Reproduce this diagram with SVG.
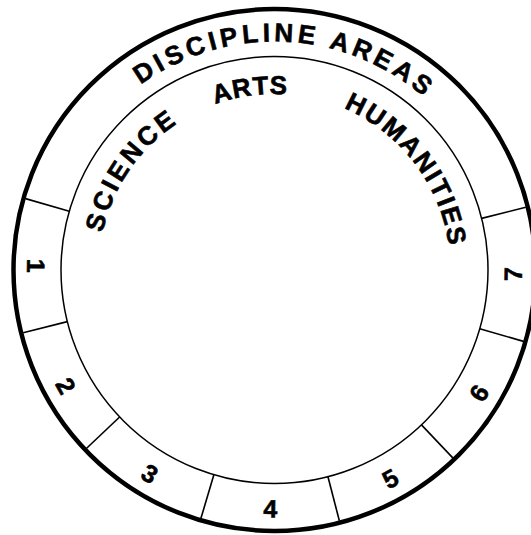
<svg xmlns="http://www.w3.org/2000/svg" width="531" height="535" viewBox="0 0 531 535">
<style>
.t{font-family:"Liberation Sans",Arial,Helvetica,sans-serif;font-weight:bold;font-size:26px;fill:#000;stroke:#000;stroke-width:0.6}
.n{font-size:25px}
.d{text-anchor:middle;dominant-baseline:central}
.rim{fill:none;stroke:#000;stroke-width:4.5}
.ring{fill:none;stroke:#000;stroke-width:1.5}
.div line{stroke:#000;stroke-width:1.6}
</style>
<defs>
<path id="outerArc" d="M -228.5 0 A 228.5 228.5 0 0 1 228.5 0"/>
<path id="innerArc" d="M -165.4 60.2 A 176 176 0 1 1 165.4 60.2"/>
</defs>
<rect width="531" height="535" fill="#fff"/>
<g transform="translate(274.5,270)">
  <g id="rim"><circle class="rim" r="261"/></g>
  <g id="ring"><circle class="ring" r="213.5"/></g>
  <g id="connectors" class="div">
    <line x1="213.5" y1="0" x2="259" y2="0" transform="rotate(196)"/>
    <line x1="213.5" y1="0" x2="259" y2="0" transform="rotate(166)"/>
    <line x1="213.5" y1="0" x2="259" y2="0" transform="rotate(136.5)"/>
    <line x1="213.5" y1="0" x2="259" y2="0" transform="rotate(106.5)"/>
    <line x1="213.5" y1="0" x2="259" y2="0" transform="rotate(75.5)"/>
    <line x1="213.5" y1="0" x2="259" y2="0" transform="rotate(46.5)"/>
    <line x1="213.5" y1="0" x2="259" y2="0" transform="rotate(16)"/>
    <line x1="213.5" y1="0" x2="259" y2="0" transform="rotate(-14)"/>
  </g>
  <g id="title"><text class="t" letter-spacing="4.1" text-anchor="middle"><textPath href="#outerArc" startOffset="51.6%">DISCIPLINE AREAS</textPath></text></g>
  <g id="science"><text class="t" letter-spacing="3.3" text-anchor="middle"><textPath href="#innerArc" startOffset="168">SCIENCE</textPath></text></g>
  <g id="arts"><text class="t" letter-spacing="0.8" text-anchor="middle"><textPath href="#innerArc" startOffset="314">ARTS</textPath></text></g>
  <g id="humanities"><text class="t" letter-spacing="2.1" text-anchor="middle"><textPath href="#innerArc" startOffset="500">HUMANITIES</textPath></text></g>
  <g id="seg1"><text class="t n d" transform="rotate(181) translate(238.5,0) rotate(-90)">1</text></g>
  <g id="seg2"><text class="t n d" transform="rotate(151) translate(238.5,0) rotate(-90)">2</text></g>
  <g id="seg3"><text class="t n d" transform="rotate(121.5) translate(238.5,0) rotate(-90)">3</text></g>
  <g id="seg4"><text class="t n d" transform="rotate(91) translate(238.5,0) rotate(-90)">4</text></g>
  <g id="seg5"><text class="t n d" transform="rotate(61) translate(238.5,0) rotate(-90)">5</text></g>
  <g id="seg6"><text class="t n d" transform="rotate(31) translate(238.5,0) rotate(-90)">6</text></g>
  <g id="seg7"><text class="t n d" transform="rotate(1) translate(238.5,0) rotate(-90)">7</text></g>
</g>
</svg>
